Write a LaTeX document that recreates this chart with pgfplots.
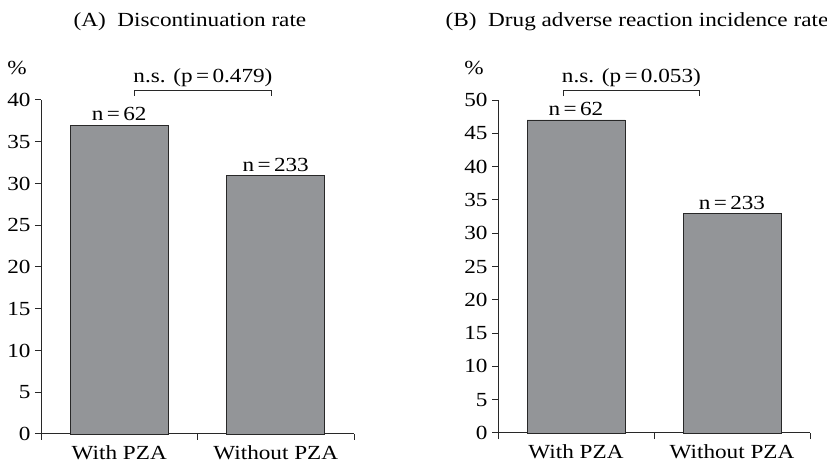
\documentclass[border=0pt]{standalone}
\usepackage{fontspec}
\setmainfont{Liberation Serif}[FakeStretch=1.16]
\usepackage{pgfplots}
\pgfplotsset{compat=1.18}
\definecolor{bargray}{RGB}{147,149,152}
\definecolor{axgray}{RGB}{40,40,40}
\newcommand{\fs}{\fontsize{20}{23}\selectfont}
\pgfplotsset{
  panel/.style={
    scale only axis,
    anchor=origin,
    xmin=0, xmax=2, ymin=0,
    axis x line=bottom, axis y line=left,
    axis line style={-, axgray, line width=1pt},
    tick style={axgray, line width=1pt},
    tick align=outside,
    major tick length=6pt,
    xtick={0,1,2}, xticklabels={},
    extra x ticks={0.5,1.5},
    extra x tick labels={With PZA, Without PZA},
    extra x tick style={major tick length=0pt},
    ytick distance=5,
    /pgf/number format/assume math mode=true,
    ticklabel style={font=\fs},
    yticklabel style={xshift=-1pt},
    xticklabel style={yshift=-8pt},
    clip=false,
    ybar, bar width=98pt,
    nodes near coords, point meta=explicit symbolic,
    every node near coord/.append style={font=\fs, inner sep=3.5pt},
  },
  barsty/.style={fill=bargray, draw=axgray, line width=0.9pt},
}
\begin{document}
\begin{tikzpicture}[x=1pt,y=1pt]
\path[use as bounding box] (0,0) rectangle (827,463);
\begin{axis}[panel, at={(41pt,29pt)}, width=313pt, height=334pt, ymax=40]
\addplot[barsty] coordinates {(0.5,37)[n\,=\,62] (1.5,31)[n\,=\,233]};
\draw[axgray, line width=0.9pt] (axis cs:0.6,40.5) -- (axis cs:0.6,41.2) -- (axis cs:1.47,41.2) -- (axis cs:1.47,40.5);
\node[font=\fs, anchor=south, inner sep=1pt] at (axis cs:1.035,41.4) {n.s. (p\,=\,0.479)};
\end{axis}
\begin{axis}[panel, at={(498pt,30pt)}, width=312pt, height=333pt, ymax=50]
\addplot[barsty] coordinates {(0.5,47)[n\,=\,62] (1.5,33)[n\,=\,233]};
\draw[axgray, line width=0.9pt] (axis cs:0.42,50.6) -- (axis cs:0.42,51.5) -- (axis cs:1.29,51.5) -- (axis cs:1.29,50.6);
\node[font=\fs, anchor=south, inner sep=1pt] at (axis cs:0.855,51.75) {n.s. (p\,=\,0.053)};
\end{axis}
\node[font=\fs] at (190,441) {(A)\ \ Discontinuation rate};
\node[font=\fs] at (637,441) {(B)\ \ Drug adverse reaction incidence rate};
\node[font=\fs] at (17,395) {\%};
\node[font=\fs] at (474,395) {\%};
\end{tikzpicture}
\end{document}
